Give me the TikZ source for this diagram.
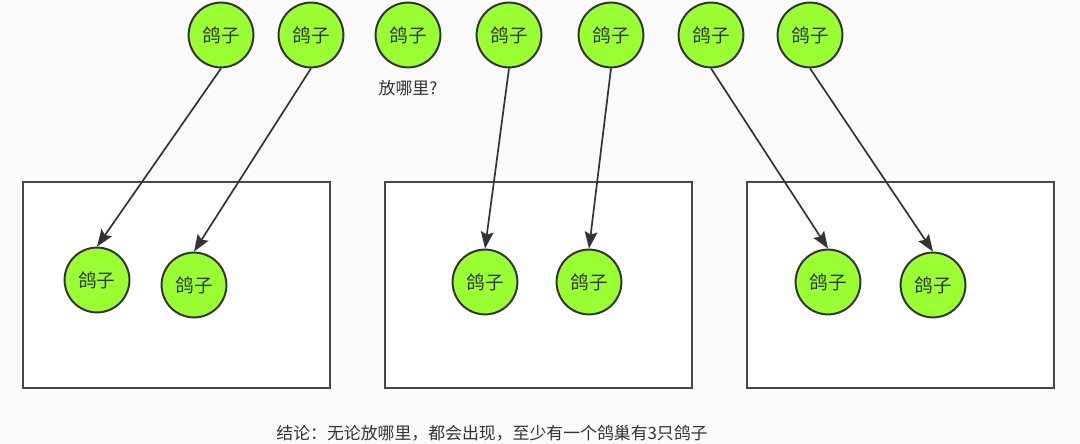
\documentclass[tikz,border=0pt]{standalone}
\usepackage{fontspec}
\usepackage{xcolor}
\usetikzlibrary{arrows.meta, positioning}
\newfontfamily\cjk{Noto Sans CJK SC}
\definecolor{pgreen}{HTML}{99FF33}
\definecolor{pline}{HTML}{333333}
\definecolor{pbg}{HTML}{FAFAFA}

\begin{document}
\begin{tikzpicture}[
  x=0.025cm, y=-0.025cm,
  pigeon/.style={circle, draw=pline, line width=1.4pt, fill=pgreen, minimum size=1.62cm, inner sep=0pt, font=\cjk\fontsize{13.2}{15}\selectfont, text=pline},
  nest/.style={draw=pline!90, line width=1.5pt, fill=white, minimum width=7.675cm, minimum height=5.15cm},
  arrow/.style={-{Stealth[length=12pt, width=9pt, inset=2pt]}, line width=1.2pt, pline},
  note/.style={font=\cjk\fontsize{12}{15}\selectfont, text=pline},
]

% 背景
\fill[pbg] (0,0) rectangle (1080,444);
\useasboundingbox (0,0) rectangle (1080,444);

% 上の鸽子
\foreach \x [count=\i] in {221,311,408,509,611,711,810} {
  \node[pigeon] (top\i) at (\x,35) {鸽子};
}
\node[note] (where) at (408,88) {放哪里?};

% 鸽巢
\node[nest] (nest1) at (176.5,285) {};
\node[nest] (nest2) at (538.5,285) {};
\node[nest] (nest3) at (900.5,285) {};

% 巢の中の鸽子
\node[pigeon] (in1) at (97,280) {鸽子};
\node[pigeon] (in2) at (194,285) {鸽子};
\node[pigeon] (in3) at (485,282) {鸽子};
\node[pigeon] (in4) at (589,282) {鸽子};
\node[pigeon] (in5) at (828,282) {鸽子};
\node[pigeon] (in6) at (933,285) {鸽子};

% 矢印
\draw[arrow] (top1.south) -- (in1.north);
\draw[arrow] (top2.south) -- (in2.north);
\draw[arrow] (top4.south) -- (in3.north);
\draw[arrow] (top5.south) -- (in4.north);
\draw[arrow] (top6.south) -- (in5.north);
\draw[arrow] (top7.south) -- (in6.north);

% 結論
\node[note] (concl) at (492,433) {结论：无论放哪里，都会出现，至少有一个鸽巢有3只鸽子};

\end{tikzpicture}
\end{document}
